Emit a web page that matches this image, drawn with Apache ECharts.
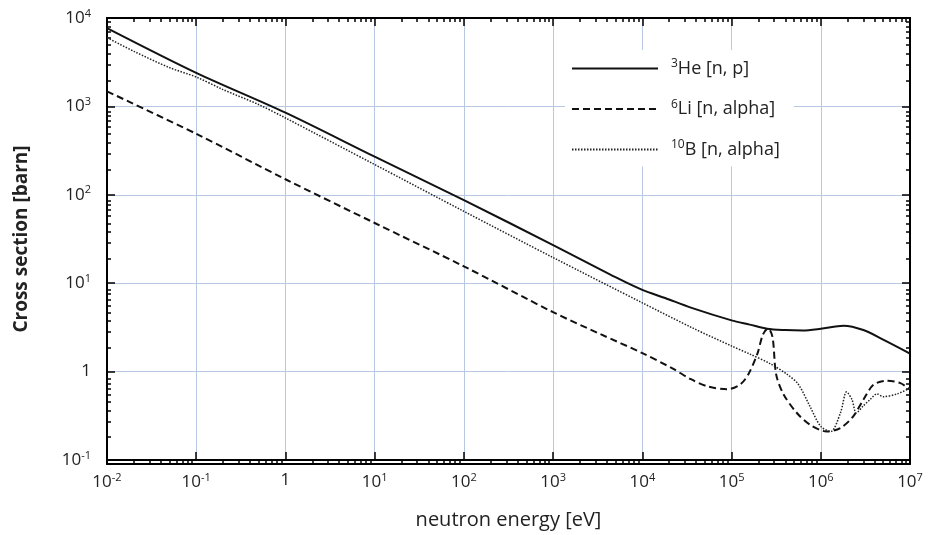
<!DOCTYPE html>
<html>
<head>
<meta charset="utf-8">
<script src="https://cdn.jsdelivr.net/npm/echarts@6/dist/echarts.min.js"></script>
<style>
html,body{margin:0;padding:0;background:#fff;}
#chart{width:931px;height:535px;}
</style>
</head>
<body>
<div id="chart"></div>
<script>
// ---- data (neutron energy in eV, cross section in barn) ----
const energyHe = [0.01, 0.1, 1, 10, 100, 1000, 5e3, 1e4, 1.8e4, 3.5e4, 1e5, 1.6e5, 2.5e5, 4e5, 6.3e5, 1e6, 1.8e6, 3e6, 5e6, 1e7];
const sigmaHe  = [7700, 2400, 850, 270, 87, 27, 11.7, 8.4, 6.8, 5.3, 3.8, 3.4, 3.05, 2.95, 2.92, 3.05, 3.3, 2.95, 2.3, 1.6];

const energyLi = [0.01, 0.1, 1, 10, 100, 1000, 3.4e3, 1e4, 2.2e4, 3.5e4, 5.4e4, 8.9e4, 1.26e5, 1.55e5, 1.95e5, 2.24e5, 2.57e5, 2.88e5, 3.16e5, 3.8e5, 5.4e5, 7.6e5, 1.17e6, 1.66e6, 2.3e6, 3.0e6, 3.9e6, 5.5e6, 7.8e6, 1e7];
const sigmaLi  = [1480, 490, 150, 48, 15.5, 4.7, 2.65, 1.62, 1.08, 0.82, 0.68, 0.63, 0.72, 0.94, 1.6, 2.6, 3.1, 2.45, 0.93, 0.56, 0.34, 0.25, 0.21, 0.23, 0.31, 0.48, 0.71, 0.79, 0.74, 0.63];

const energyB = [0.01, 0.02, 0.05, 0.1, 0.2, 0.5, 1, 10, 100, 1000, 1e4, 3.7e4, 1e5, 1.6e5, 2.7e5, 4.2e5, 5.6e5, 7.6e5, 1e6, 1.29e6, 1.66e6, 1.95e6, 2.24e6, 2.5e6, 3.0e6, 3.55e6, 4.27e6, 5.0e6, 7.2e6, 1e7];
const sigmaB  = [6000, 4200, 2750, 2150, 1550, 1050, 740, 220, 65, 19.5, 6.0, 3.1, 1.95, 1.58, 1.23, 0.93, 0.72, 0.40, 0.24, 0.21, 0.34, 0.59, 0.48, 0.34, 0.41, 0.48, 0.56, 0.52, 0.56, 0.65];

const seriesNames = ['He3', 'Li6', 'B10'];
const legendLabels = ['{s|3}{t|He [n, p]}', '{s|6}{t|Li [n, alpha]}', '{s|10}{t|B [n, alpha]}'];

const xTickValues = [0.01, 0.1, 1, 10, 100, 1000, 1e4, 1e5, 1e6, 1e7];
const xTickLabels = ['10{s|-2}', '10{s|-1}', '1', '10{s|1}', '10{s|2}', '10{s|3}', '10{s|4}', '10{s|5}', '10{s|6}', '10{s|7}'];
const yTickValues = [0.1, 1, 10, 100, 1000, 1e4];
const yTickLabels = ['10{s|-1}', '1', '10{s|1}', '10{s|2}', '10{s|3}', '10{s|4}'];

const xAxisName = 'neutron energy [eV]';
const yAxisName = 'Cross section [barn]';

// minor tick positions (2..9 within each decade)
function minorTicks(majors) {
  const out = [];
  for (let i = 0; i < majors.length - 1; i++) {
    for (let k = 2; k <= 9; k++) out.push(+(majors[i] * k).toPrecision(6));
  }
  return out;
}
const xMinor = minorTicks(xTickValues);
const yMinor = minorTicks(yTickValues);

const zip = (a, b) => a.map((v, i) => [v, b[i]]);

const FONT = '"Open Sans", "Liberation Sans", sans-serif';
const labelRich = {
  s: { fontSize: 11, padding: [0, 0, 9, 0], color: '#222', fontFamily: FONT }
};
function fmtFrom(values, labels) {
  return function (v) {
    for (let i = 0; i < values.length; i++) {
      if (Math.abs(Math.log10(v) - Math.log10(values[i])) < 1e-6) return labels[i];
    }
    return '';
  };
}

const axisLine = { show: true, onZero: false, lineStyle: { color: '#000', width: 2 } };
const gridColor = '#b8c7e2';

function xAx(grid, pos, major) {
  return {
    type: 'log', logBase: 10, gridIndex: grid, position: pos,
    min: xTickValues[0], max: xTickValues[xTickValues.length - 1],
    axisLine: axisLine,
    axisTick: { show: true, inside: true, length: major ? 8 : 4, customValues: major ? xTickValues : xMinor, lineStyle: { color: '#000', width: 1.5 } },
    axisLabel: (major && pos === 'bottom') ? {
      show: true, customValues: xTickValues, formatter: fmtFrom(xTickValues, xTickLabels),
      fontSize: 17, color: '#222', fontFamily: FONT, margin: 12, rich: labelRich
    } : { show: false },
    splitLine: { show: major && pos === 'bottom', lineStyle: { color: gridColor, width: 1 } },
    minorTick: { show: false }, minorSplitLine: { show: false },
    name: (major && pos === 'bottom') ? xAxisName : '',
    nameLocation: 'middle', nameGap: 50,
    nameTextStyle: { fontSize: 20, color: '#222', fontFamily: FONT }
  };
}
function yAx(grid, pos, major) {
  return {
    type: 'log', logBase: 10, gridIndex: grid, position: pos,
    min: yTickValues[0], max: yTickValues[yTickValues.length - 1],
    axisLine: axisLine,
    axisTick: { show: true, inside: true, length: major ? 8 : 4, customValues: major ? yTickValues : yMinor, lineStyle: { color: '#000', width: 1.5 } },
    axisLabel: (major && pos === 'left') ? {
      show: true, customValues: yTickValues, formatter: fmtFrom(yTickValues, yTickLabels),
      fontSize: 17, color: '#222', fontFamily: FONT, margin: 16, rich: labelRich
    } : { show: false },
    splitLine: { show: major && pos === 'left', lineStyle: { color: gridColor, width: 1 } },
    minorTick: { show: false }, minorSplitLine: { show: false },
    name: (major && pos === 'left') ? yAxisName : '',
    nameLocation: 'middle', nameGap: 76,
    nameTextStyle: { fontSize: 19, fontWeight: 'bold', color: '#222', fontFamily: FONT }
  };
}

const gridRect = { left: 107, right: 21, top: 18, bottom: 71, containLabel: false };

const option = {
  animation: false,
  backgroundColor: '#fff',
  grid: [Object.assign({}, gridRect), Object.assign({}, gridRect)],
  xAxis: [xAx(0, 'bottom', true), xAx(0, 'top', true), xAx(1, 'bottom', false), xAx(1, 'top', false)],
  yAxis: [yAx(0, 'left', true), yAx(0, 'right', true), yAx(1, 'left', false), yAx(1, 'right', false)],
  legend: {
    orient: 'vertical', left: 565, top: 50,
    backgroundColor: '#fff', padding: [8, 14, 8, 6],
    itemWidth: 86, itemHeight: 14, itemGap: 21,
    itemStyle: { opacity: 0 },
    data: seriesNames,
    formatter: function (name) { return legendLabels[seriesNames.indexOf(name)]; },
    textStyle: {
      color: '#222', fontFamily: FONT, fontSize: 18,
      rich: {
        s: { fontSize: 12, padding: [0, 0, 9, 8], color: '#222', fontFamily: FONT },
        t: { fontSize: 18, lineHeight: 23, color: '#222', fontFamily: FONT }
      }
    }
  },
  series: [
    { name: seriesNames[0], type: 'line', xAxisIndex: 0, yAxisIndex: 0, data: zip(energyHe, sigmaHe),
      showSymbol: false, symbol: 'none', smooth: 0.3, itemStyle: { color: '#111' },
      lineStyle: { color: '#111', width: 2, type: 'solid' } },
    { name: seriesNames[1], type: 'line', xAxisIndex: 0, yAxisIndex: 0, data: zip(energyLi, sigmaLi),
      showSymbol: false, symbol: 'none', smooth: 0.3, itemStyle: { color: '#111' },
      lineStyle: { color: '#111', width: 2, type: [7, 4] } },
    { name: seriesNames[2], type: 'line', xAxisIndex: 0, yAxisIndex: 0, data: zip(energyB, sigmaB),
      showSymbol: false, symbol: 'none', smooth: 0.3, itemStyle: { color: '#222' },
      lineStyle: { color: '#222', width: 1.5, type: [1.5, 1.5] } }
  ]
};

const chart = echarts.init(document.getElementById('chart'), null, { renderer: 'canvas' });
chart.setOption(option);
</script>
</body>
</html>
